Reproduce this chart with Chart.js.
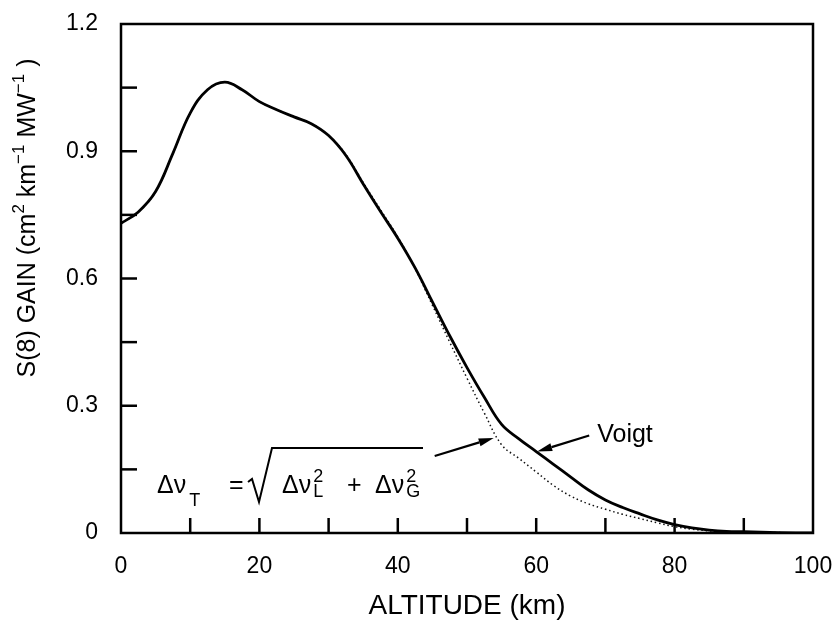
<!DOCTYPE html>
<html>
<head>
<meta charset="utf-8">
<script src="https://cdn.jsdelivr.net/npm/chart.js@4.4.0/dist/chart.umd.min.js"></script>
<style>
  html, body { margin: 0; padding: 0; background: #fff; }
  canvas { display: block; }
</style>
</head>
<body>
<canvas id="gainChart" width="837" height="624"></canvas>
<script>
// altitude in km, gain in cm^2 km^-1 MW^-1
const altitude = [0, 2.5, 5, 7.5, 10, 12.5, 15, 17.5, 20, 22.5, 25, 27.5, 30, 32.5, 35, 37.5, 40, 42.5, 45, 47.5, 50, 52.5, 55, 57.5, 60, 62.5, 65, 67.5, 70, 72.5, 75, 77.5, 80, 82.5, 85, 87.5, 90, 95, 100];
const voigtGain = [0.73, 0.757, 0.805, 0.895, 0.99, 1.045, 1.063, 1.045, 1.017, 0.998, 0.981, 0.965, 0.937, 0.89, 0.823, 0.758, 0.695, 0.625, 0.545, 0.465, 0.39, 0.32, 0.256, 0.222, 0.192, 0.162, 0.132, 0.102, 0.078, 0.06, 0.045, 0.031, 0.02, 0.012, 0.007, 0.004, 0.003, 0.001, 0];
const approxGain = [0.73, 0.757, 0.805, 0.895, 0.99, 1.045, 1.063, 1.045, 1.017, 0.998, 0.981, 0.965, 0.937, 0.892, 0.826, 0.762, 0.698, 0.623, 0.537, 0.45, 0.365, 0.283, 0.208, 0.176, 0.144, 0.112, 0.087, 0.069, 0.056, 0.044, 0.034, 0.024, 0.015, 0.009, 0.005, 0.003, 0.002, 0.001, 0];

const xTickLabels = [0, 20, 40, 60, 80, 100];
const yTickLabels = [0, 0.3, 0.6, 0.9, 1.2];
const xTickMarks = [10, 20, 30, 40, 50, 60, 70, 80, 90];
const yTickMarks = [0.15, 0.3, 0.45, 0.6, 0.75, 0.9, 1.05];

// where the arrows touch the curves (km)
const voigtArrowAt = 60;
const approxArrowAt = 54;

const FONT = '"Liberation Sans", Arial, Helvetica, sans-serif';
Chart.defaults.font.family = FONT;
Chart.defaults.color = "#000";

function valueAt(series, km) {
  for (let i = 1; i < altitude.length; i++) {
    if (km <= altitude[i]) {
      const t = (km - altitude[i - 1]) / (altitude[i] - altitude[i - 1]);
      return series[i - 1] + t * (series[i] - series[i - 1]);
    }
  }
  return series[series.length - 1];
}

function line(ctx, x1, y1, x2, y2) {
  ctx.beginPath();
  ctx.moveTo(x1, y1);
  ctx.lineTo(x2, y2);
  ctx.stroke();
}

function arrow(ctx, fx, fy, tx, ty) {
  const a = Math.atan2(ty - fy, tx - fx);
  const len = 15, half = 4;
  const bx = tx - len * Math.cos(a), by = ty - len * Math.sin(a);
  ctx.lineWidth = 2.2;
  line(ctx, fx, fy, bx, by);
  ctx.beginPath();
  ctx.moveTo(tx, ty);
  ctx.lineTo(bx + half * Math.sin(a), by - half * Math.cos(a));
  ctx.lineTo(bx - half * Math.sin(a), by + half * Math.cos(a));
  ctx.closePath();
  ctx.fill();
}

const decorations = {
  id: "decorations",
  afterDatasetsDraw(chart) {
    const ctx = chart.ctx;
    const { left, right, top, bottom } = chart.chartArea;
    const xs = chart.scales.x, ys = chart.scales.y;
    ctx.save();
    ctx.strokeStyle = "#000";
    ctx.fillStyle = "#000";
    ctx.lineCap = "butt";

    // frame
    ctx.lineWidth = 2.5;
    ctx.strokeRect(left, top, right - left, bottom - top);

    // inward ticks
    yTickMarks.forEach((v) => {
      const py = ys.getPixelForValue(v);
      line(ctx, left, py, left + 16, py);
    });
    xTickMarks.forEach((v) => {
      const px = xs.getPixelForValue(v);
      line(ctx, px, bottom, px, bottom - 15);
    });

    // Voigt label + arrow
    const vx = xs.getPixelForValue(voigtArrowAt);
    const vy = ys.getPixelForValue(valueAt(voigtGain, voigtArrowAt));
    arrow(ctx, vx + 53, vy - 16, vx + 1, vy);
    ctx.font = "25px " + FONT;
    ctx.textBaseline = "alphabetic";
    ctx.fillText("Voigt", vx + 61, vy - 10);

    // approximation arrow
    const ax = xs.getPixelForValue(approxArrowAt);
    const ay = ys.getPixelForValue(valueAt(approxGain, approxArrowAt));
    arrow(ctx, ax - 60, ay + 24, ax - 1, ay + 6);

    // formula: Δν_T = sqrt(Δν_L² + Δν_G²)
    const fx = left + 36, fb = bottom - 40;
    const big = "25px " + FONT, small = "18px " + FONT;
    const dnu = "\u0394\u03bd";
    ctx.font = big;
    const w = ctx.measureText(dnu).width;
    ctx.fillText(dnu, fx, fb);
    ctx.fillText("=", fx + 72, fb);
    ctx.fillText(dnu, fx + 125, fb);
    ctx.fillText("+", fx + 190, fb);
    ctx.fillText(dnu, fx + 218, fb);
    ctx.font = small;
    ctx.fillText("T", fx + w + 3, fb + 13);
    ctx.fillText("2", fx + 125 + w + 2, fb - 11);
    ctx.fillText("L", fx + 125 + w + 2, fb + 4);
    ctx.fillText("2", fx + 218 + w + 2, fb - 11);
    ctx.fillText("G", fx + 218 + w + 2, fb + 4);
    ctx.lineWidth = 2;
    ctx.beginPath();
    ctx.moveTo(fx + 91, fb - 11);
    ctx.lineTo(fx + 95, fb - 14);
    ctx.lineTo(fx + 102, fb + 9);
    ctx.lineTo(fx + 115, fb - 45);
    ctx.lineTo(fx + 266, fb - 45);
    ctx.stroke();

    // y axis title (sits above the axis middle)
    const parts = [
      ["S(8) GAIN (cm", false], ["2", true], [" km", false], ["\u22121", true],
      [" MW", false], ["\u22121", true], [" )", false],
    ];
    const mainF = "25px " + FONT, supF = "17px " + FONT;
    let total = 0;
    parts.forEach(([t, sup]) => {
      ctx.font = sup ? supF : mainF;
      total += ctx.measureText(t).width;
    });
    ctx.translate(left - 93, top + 194);
    ctx.rotate(-Math.PI / 2);
    ctx.textBaseline = "middle";
    let px = -total / 2;
    parts.forEach(([t, sup]) => {
      ctx.font = sup ? supF : mainF;
      ctx.fillText(t, px, sup ? -9 : 0);
      px += ctx.measureText(t).width;
    });
    ctx.restore();
  },
};

const ctx = document.getElementById("gainChart").getContext("2d");
new Chart(ctx, {
  type: "line",
  data: {
    datasets: [
      {
        label: "Voigt",
        data: altitude.map((a, i) => ({ x: a, y: voigtGain[i] })),
        borderColor: "#000",
        borderWidth: 2.8,
        pointRadius: 0,
        tension: 0.4,
        fill: false,
        order: 0,
      },
      {
        label: "sqrt approximation",
        data: altitude.map((a, i) => ({ x: a, y: approxGain[i] })),
        borderColor: "#111",
        borderWidth: 1.5,
        borderDash: [1.5, 2.8],
        pointRadius: 0,
        tension: 0.4,
        fill: false,
        order: 1,
      },
    ],
  },
  options: {
    responsive: false,
    animation: false,
    layout: { padding: { top: 24, right: 24, left: 0, bottom: 0 } },
    plugins: { legend: { display: false }, tooltip: { enabled: false } },
    scales: {
      x: {
        type: "linear",
        min: 0,
        max: 100,
        afterBuildTicks: (s) => { s.ticks = xTickLabels.map((v) => ({ value: v })); },
        afterFit: (s) => { s.height = 91; s.paddingLeft = 0; s.paddingRight = 0; },
        grid: { display: false, drawTicks: false },
        border: { display: false },
        ticks: { font: { size: 23 }, padding: 20, maxRotation: 0 },
        title: {
          display: true,
          text: "ALTITUDE (km)",
          font: { size: 28 },
          padding: { top: 0, bottom: 1 },
        },
      },
      y: {
        type: "linear",
        min: 0,
        max: 1.2,
        afterBuildTicks: (s) => { s.ticks = yTickLabels.map((v) => ({ value: v })); },
        afterFit: (s) => { s.width = 121; s.paddingTop = 0; s.paddingBottom = 0; },
        grid: { display: false, drawTicks: false },
        border: { display: false },
        ticks: {
          font: { size: 23 },
          padding: 23,
          callback: (v) => (v === 0 ? "0" : v.toFixed(1)),
        },
      },
    },
  },
  plugins: [decorations],
});
</script>
</body>
</html>
